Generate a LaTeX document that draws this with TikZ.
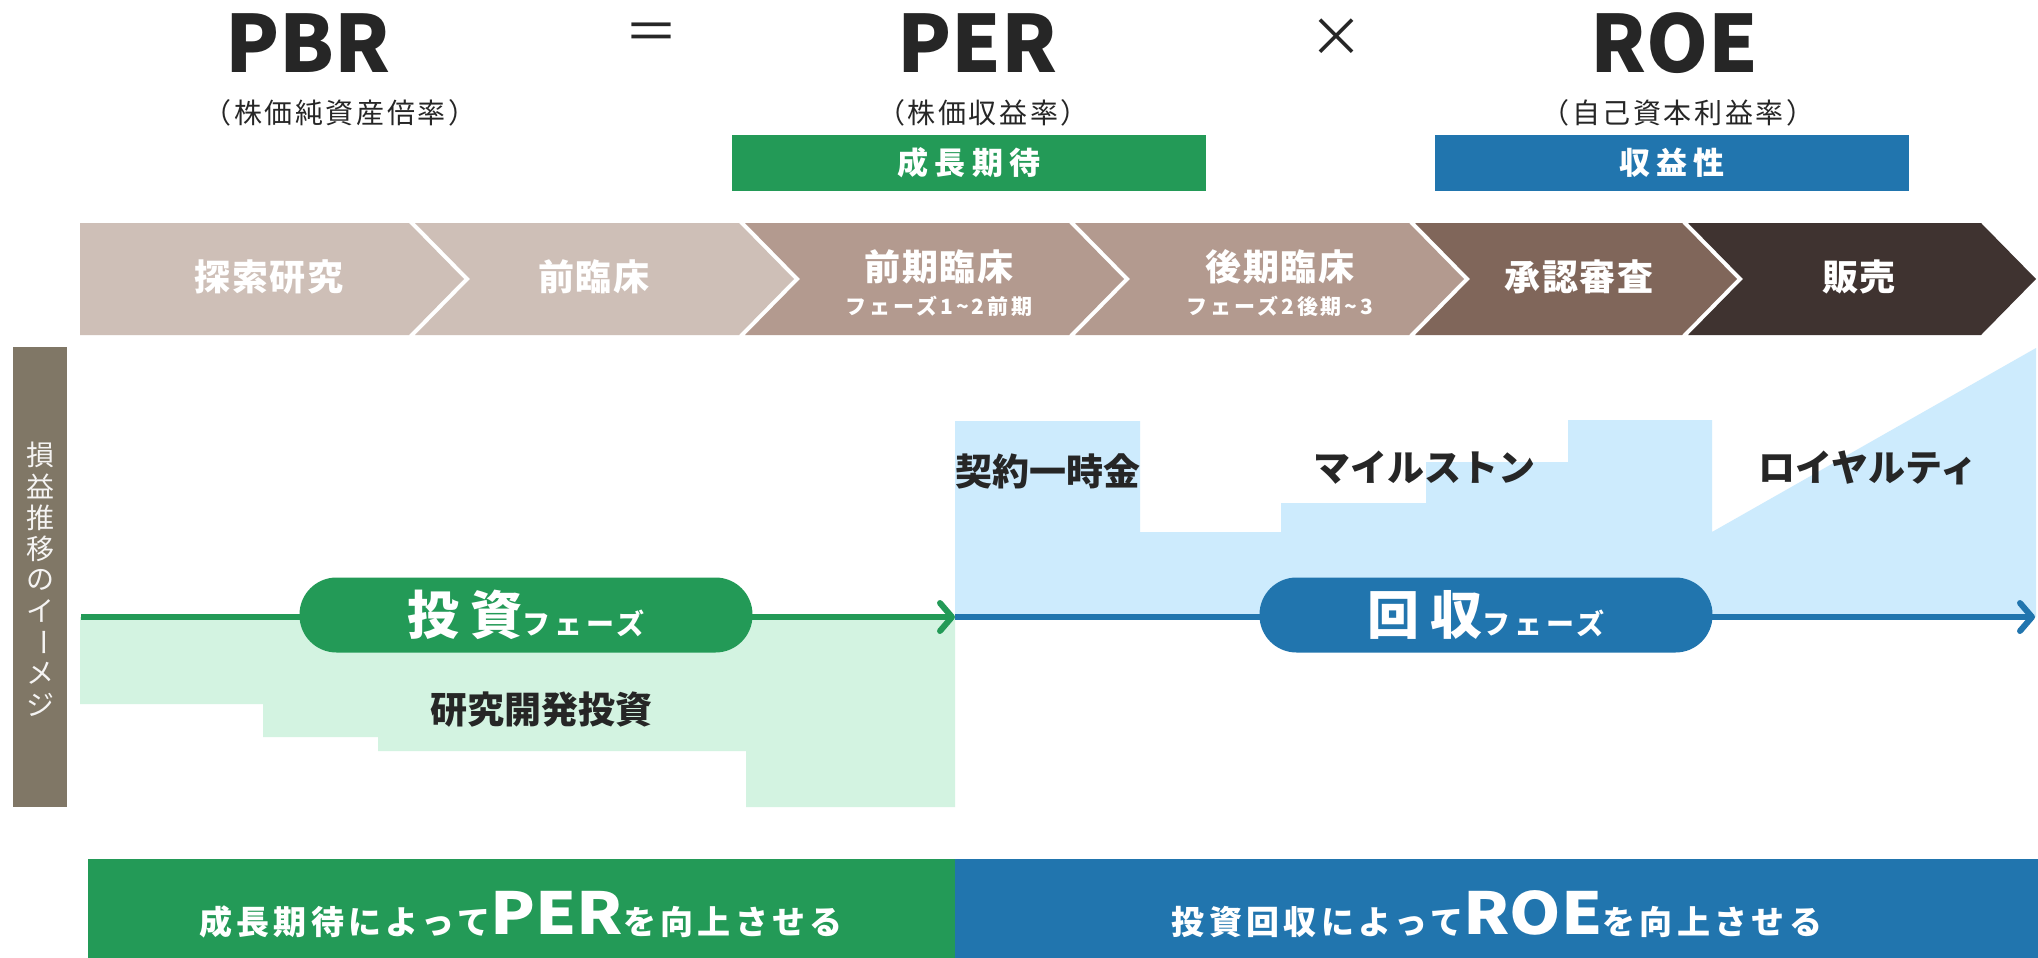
\documentclass[tikz,border=0pt]{standalone}
\usepackage{fontspec}
\setmainfont{Noto Sans CJK JP}
\usetikzlibrary{arrows.meta}
\definecolor{cgreen}{HTML}{239A57}
\definecolor{cblue}{HTML}{2175AE}
\definecolor{cmint}{HTML}{D3F3E1}
\definecolor{clblue}{HTML}{CDEBFD}
\definecolor{chA}{HTML}{CEBFB7}
\definecolor{chB}{HTML}{B39A8F}
\definecolor{chC}{HTML}{80665A}
\definecolor{chD}{HTML}{3F3330}
\definecolor{cbar}{HTML}{807766}
\definecolor{ctext}{HTML}{262626}
\newcommand\fsz[1]{\fontsize{#1pt}{#1pt}\selectfont}
\newcommand\lsp[1]{\addfontfeatures{LetterSpace=#1}}
\newcommand\wide{\addfontfeatures{LetterSpace=0,FakeStretch=1.13}}
\begin{document}
\begin{tikzpicture}[x=1pt,y=-1pt,
  titletxt/.style={text=ctext,font=\bfseries\fsz{79},inner sep=0},
  subtxt/.style={text=ctext,font=\fsz{28}\lsp{9},inner sep=0},
  opertxt/.style={text=ctext,font=\fsz{54},inner sep=0},
  keybox/.style={minimum width=474pt,minimum height=56pt,inner sep=0,text=white,font=\bfseries\fsz{31}\lsp{20}},
  chevtxt/.style={text=white,font=\bfseries\fsz{36}\lsp{4},inner sep=0},
  chevsub/.style={text=white,font=\bfseries\fsz{21}\lsp{14},inner sep=0},
  pill/.style={minimum width=453pt,minimum height=75pt,rounded corners=37pt,inner sep=0,text=white,font=\bfseries},
  darklbl/.style={text=ctext,font=\bfseries\fsz{37},inner sep=0},
  banner/.style={minimum height=99pt,inner sep=0},
  bannertxt/.style={text=white,font=\bfseries,inner sep=0,anchor=base},
  vtxt/.style={text=white!92!cbar,font=\fsz{28},inner sep=0},
  axis/.style={line width=6pt,-{Straight Barb[length=12pt,width=28pt,round]}}
]
\useasboundingbox (0,0) rectangle (2038,958);
\fill[white] (0,0) rectangle (2038,958);

% title row
\node[titletxt] (pbr) at (308,43) {PBR};
\node[opertxt] (eq) at (651,37) {＝};
\node[titletxt] (per) at (977,43) {PER};
\node[opertxt] (times) at (1336,38) {×};
\node[titletxt] (roe) at (1674,43) {ROE};
\node[subtxt] (pbrs) at (340,113) {（株価純資産倍率）};
\node[subtxt] (pers) at (983,113) {（株価収益率）};
\node[subtxt] (roes) at (1678,113) {（自己資本利益率）};
\node[keybox,fill=cgreen] (kgrow) at (969,163) {成長期待};
\node[keybox,fill=cblue] (kprof) at (1672,163) {収益性};

% chevrons
\fill[chA] (80,223) -- (409,223) -- (464,279) -- (409,335) -- (80,335) -- cycle;
\fill[chA] (415,223) -- (739,223) -- (794,279) -- (739,335) -- (415,335) -- (470,279) -- cycle;
\fill[chB] (745,223) -- (1069,223) -- (1124,279) -- (1069,335) -- (745,335) -- (800,279) -- cycle;
\fill[chB] (1075,223) -- (1409,223) -- (1464,279) -- (1409,335) -- (1075,335) -- (1130,279) -- cycle;
\fill[chC] (1415,223) -- (1682,223) -- (1737,279) -- (1682,335) -- (1415,335) -- (1470,279) -- cycle;
\fill[chD] (1688,223) -- (1981,223) -- (2036,279) -- (1981,335) -- (1688,335) -- (1743,279) -- cycle;
\node[chevtxt] (c1) at (269,277) {探索研究};
\node[chevtxt] (c2) at (594,277) {前臨床};
\node[chevtxt] (c3) at (939,267) {前期臨床};
\node[chevsub] (c3s) at (939,306) {フェーズ1\textasciitilde 2前期};
\node[chevtxt] (c4) at (1280,267) {後期臨床};
\node[chevsub] (c4s) at (1280,306) {フェーズ2後期\textasciitilde 3};
\node[chevtxt] (c5) at (1579,277) {承認審査};
\node[chevtxt] (c6) at (1859,277) {販売};

% side bar
\node[fill=cbar,minimum width=54pt,minimum height=460pt,inner sep=0] (vbar) at (40,577) {};
\foreach \ch [count=\i] in {損,益,推,移,の,イ,\rotatebox{-90}{ー},メ,ジ}
  \node[vtxt] (v\i) at (40,{455+(\i-1)*31.25}) {\ch};

% profit/loss areas
\fill[cmint] (80,617) -- (955,617) -- (955,807) -- (746,807) -- (746,751) -- (378,751) -- (378,737) -- (263,737) -- (263,704) -- (80,704) -- cycle;
\fill[clblue] (955,617) -- (955,421) -- (1140,421) -- (1140,532) -- (1281,532) -- (1281,503) -- (1426,503) -- (1426,462) -- (1568,462) -- (1568,420) -- (1712,420) -- (1712,532) -- (2036,348) -- (2036,617) -- cycle;
\node[darklbl] (rd) at (541,710) {研究開発投資};
\node[darklbl] (l1) at (1048,471) {契約一時金};
\node[darklbl] (l2) at (1424,468) {マイルストン};
\node[darklbl] (l3) at (1868,468) {ロイヤルティ};

% axis
\coordinate (ax0) at (81,617);
\coordinate (axm) at (955,617);
\coordinate (ax1) at (2035,617);
\draw[axis,cblue] (axm) -- (ax1);
\draw[axis,cgreen] (ax0) -- (axm);
\node[pill,fill=cgreen] (pinv) at (526,615) {\fsz{52}\lsp{22}投資\fsz{28}\lsp{14}フェーズ};
\node[pill,fill=cblue] (pret) at (1486,615) {\fsz{52}\lsp{22}回収\fsz{28}\lsp{14}フェーズ};

% banners
\node[banner,fill=cgreen,minimum width=867pt] (bn1) at (521.5,908.5) {};
\node[banner,fill=cblue,minimum width=1083pt] (bn2) at (1496.5,908.5) {};
\node[bannertxt] (bt1) at (521,934) {{\fsz{33}\lsp{13}成長期待によって}{\fsz{58}\wide PER}{\fsz{33}\lsp{13}を向上させる}};
\node[bannertxt] (bt2) at (1497,934) {{\fsz{33}\lsp{13}投資回収によって}{\fsz{58}\wide ROE}{\fsz{33}\lsp{13}を向上させる}};
\end{tikzpicture}
\end{document}
